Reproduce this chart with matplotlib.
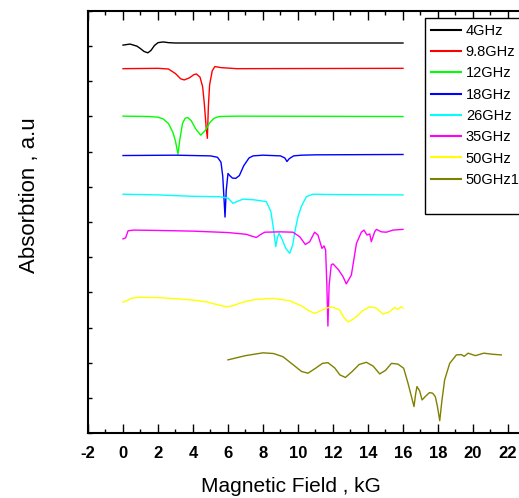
import matplotlib
matplotlib.use("Agg")
import matplotlib.pyplot as plt
from matplotlib.ticker import MultipleLocator
from matplotlib.lines import Line2D

plt.rcParams["font.family"] = ["Liberation Sans", "DejaVu Sans"]
plt.rcParams["axes.unicode_minus"] = False

# series: (magnetic field kG, absorption a.u. with offsets)
x_4 = [0, 0.4, 0.8, 1.0, 1.2, 1.42, 1.6, 1.8, 2.0, 2.3, 2.6, 3.0, 4.0, 16]
y_4 = [11.03, 11.06, 11.0, 10.93, 10.85, 10.81, 10.88, 11.02, 11.1, 11.12, 11.1, 11.09, 11.09, 11.09]

x_98 = [0, 2.0, 2.6, 3.0, 3.3, 3.5, 3.8, 4.05, 4.19, 4.4, 4.55, 4.65, 4.75, 4.82,
        4.88, 4.95, 5.1, 5.25, 5.6, 6.5, 16]
y_98 = [10.36, 10.37, 10.35, 10.22, 10.07, 10.04, 10.1, 10.19, 10.21, 10.12, 9.85, 9.35,
        8.7, 8.38, 9.3, 9.9, 10.3, 10.42, 10.39, 10.36, 10.37]

x_12 = [0, 1.5, 2.0, 2.3, 2.6, 2.85, 3.0, 3.14, 3.25, 3.4, 3.55, 3.7, 3.9, 4.15, 4.44,
        4.7, 4.95, 5.2, 5.5, 6.5, 16]
y_12 = [9.01, 9.0, 8.98, 8.93, 8.8, 8.55, 8.3, 7.93, 8.35, 8.8, 8.95, 8.97, 8.88, 8.65,
        8.47, 8.6, 8.82, 8.95, 9.0, 9.01, 9.0]

x_18 = [0, 3.0, 5.0, 5.4, 5.6, 5.7, 5.78, 5.83, 5.9, 6.0, 6.1, 6.25, 6.44, 6.65, 6.9,
        7.2, 7.43, 8.0, 9.0, 9.25, 9.37, 9.5, 9.75, 10.2, 11.0, 16]
y_18 = [7.89, 7.9, 7.88, 7.84, 7.7, 7.3, 6.6, 6.14, 6.9, 7.38, 7.32, 7.25, 7.24, 7.32,
        7.6, 7.82, 7.88, 7.9, 7.88, 7.82, 7.72, 7.8, 7.88, 7.9, 7.91, 7.92]

x_26 = [0, 2.0, 4.0, 5.5, 6.0, 6.29, 6.5, 6.86, 7.5, 8.19, 8.45, 8.6, 8.73, 8.82, 8.92,
        9.1, 9.3, 9.53, 9.7, 9.85, 10.0, 10.2, 10.48, 10.86, 12.0, 16]
y_26 = [6.79, 6.77, 6.73, 6.72, 6.68, 6.53, 6.58, 6.65, 6.63, 6.58, 6.3, 5.8, 5.3, 5.55,
        5.68, 5.5, 5.25, 5.11, 5.35, 5.8, 6.15, 6.45, 6.72, 6.79, 6.78, 6.77]

x_35 = [0, 0.15, 0.29, 0.6, 2.0, 4.0, 6.0, 7.05, 7.35, 7.62, 7.85, 8.1, 9.0, 9.71, 10.1,
        10.42, 10.67, 10.95, 11.14, 11.37, 11.49, 11.58, 11.65, 11.71, 11.78, 11.9, 12.0,
        12.3, 12.57, 12.76, 13.05, 13.34, 13.62, 13.77, 13.94, 14.1, 14.19, 14.38, 14.48,
        14.77, 15.05, 15.43, 16]
y_35 = [5.52, 5.55, 5.75, 5.77, 5.76, 5.74, 5.7, 5.65, 5.6, 5.56, 5.64, 5.71, 5.72, 5.71,
        5.58, 5.36, 5.44, 5.71, 5.63, 5.25, 5.32, 5.2, 4.2, 3.04, 4.2, 4.78, 4.81, 4.65,
        4.45, 4.24, 4.49, 5.39, 5.71, 5.77, 5.63, 5.66, 5.44, 5.72, 5.79, 5.72, 5.71, 5.77,
        5.79]

x_50 = [0, 0.29, 0.48, 0.95, 2.0, 3.24, 4.0, 4.76, 5.3, 5.9, 6.3, 6.67, 7.1, 7.62, 8.57,
        9.53, 9.9, 10.29, 10.6, 10.95, 11.3, 11.62, 11.9, 12.38, 12.6, 12.86, 13.1, 13.34,
        13.7, 14.1, 14.48, 14.86, 15.24, 15.52, 15.7, 15.9, 16]
y_50 = [3.72, 3.78, 3.83, 3.86, 3.85, 3.81, 3.78, 3.73, 3.66, 3.59, 3.62, 3.69, 3.75, 3.8,
        3.83, 3.76, 3.68, 3.59, 3.48, 3.4, 3.48, 3.55, 3.59, 3.5, 3.3, 3.16, 3.22, 3.31,
        3.48, 3.59, 3.55, 3.38, 3.45, 3.57, 3.52, 3.59, 3.55]

x_50b = [6.0, 7.0, 8.0, 8.6, 9.14, 9.7, 10.2, 10.57, 11.0, 11.4, 11.71, 12.1, 12.4, 12.71,
         13.1, 13.5, 13.91, 14.3, 14.67, 15.0, 15.34, 15.71, 16.04, 16.29, 16.45, 16.63,
         16.72, 16.8, 16.95, 17.09, 17.3, 17.52, 17.7, 17.85, 17.97, 18.1, 18.22, 18.38,
         18.67, 19.05, 19.33, 19.5, 19.72, 20.14, 20.62, 21.1, 21.62]
y_50b = [2.08, 2.2, 2.28, 2.26, 2.17, 1.95, 1.75, 1.7, 1.84, 1.98, 2.0, 1.85, 1.65, 1.58,
         1.75, 1.95, 2.01, 1.9, 1.68, 1.78, 1.98, 1.96, 1.84, 1.41, 1.1, 0.75, 1.1, 1.32,
         1.2, 0.94, 1.05, 1.15, 1.13, 1.03, 0.75, 0.35, 0.9, 1.51, 1.98, 2.22, 2.23, 2.18,
         2.27, 2.2, 2.27, 2.24, 2.22]

labels = ["4GHz", "9.8GHz", "12GHz", "18GHz", "26GHz", "35GHz", "50GHz", "50GHz1"]
colors = ["black", "#ff0000", "#00ff00", "#0000ff", "#00ffff", "#ff00ff", "#ffff00", "#808000"]
series = [(x_4, y_4), (x_98, y_98), (x_12, y_12), (x_18, y_18), (x_26, y_26),
          (x_35, y_35), (x_50, y_50), (x_50b, y_50b)]

fig = plt.figure(figsize=(5.19, 4.98), dpi=100)
ax = fig.add_axes([88 / 519, 65 / 498, 431 / 519, 422 / 498])

for (xs, ys), c, lab in zip(series, colors, labels):
    ax.plot(xs, ys, color=c, lw=1.0, label=lab)

ax.set_xlim(-2, 22.63)
ax.set_ylim(0, 12)
ax.xaxis.set_major_locator(MultipleLocator(2))
ax.xaxis.set_minor_locator(MultipleLocator(1))
ax.yaxis.set_major_locator(MultipleLocator(1))
ax.tick_params(axis="x", which="major", direction="in", length=6.5, width=1.0,
               top=True, labelsize=12, pad=9)
ax.tick_params(axis="x", which="minor", direction="in", length=3.2, width=1.0, top=True)
ax.tick_params(axis="y", which="major", direction="in", length=3, width=1.0,
               labelleft=False)
for lbl in ax.get_xticklabels():
    lbl.set_fontweight("bold")
for side in ["left", "bottom", "top"]:
    ax.spines[side].set_linewidth(1.5)
ax.spines["right"].set_visible(False)

handles = [Line2D([], [], color=c, lw=1.5) for c in colors]
handles.append(Line2D([], [], color="none"))
leg = ax.legend(handles, labels + [" "], loc="upper left",
                bbox_to_anchor=(425 / 519, 1 - 18 / 498), bbox_transform=fig.transFigure,
                borderaxespad=0, borderpad=0.4, fontsize=10.5, handlelength=2.1,
                handletextpad=0.3, labelspacing=0.5, fancybox=False, framealpha=1)
leg.get_frame().set_edgecolor("black")
leg.get_frame().set_linewidth(1.0)

fig.text(291 / 519, 1 - 486 / 498, "Magnetic Field , kG", fontsize=15,
         ha="center", va="center")
fig.text(30 / 519, 1 - 195 / 498, "Absorbtion , a.u", fontsize=16,
         ha="center", va="center", rotation=90)

fig.savefig("out.png", dpi=100)
